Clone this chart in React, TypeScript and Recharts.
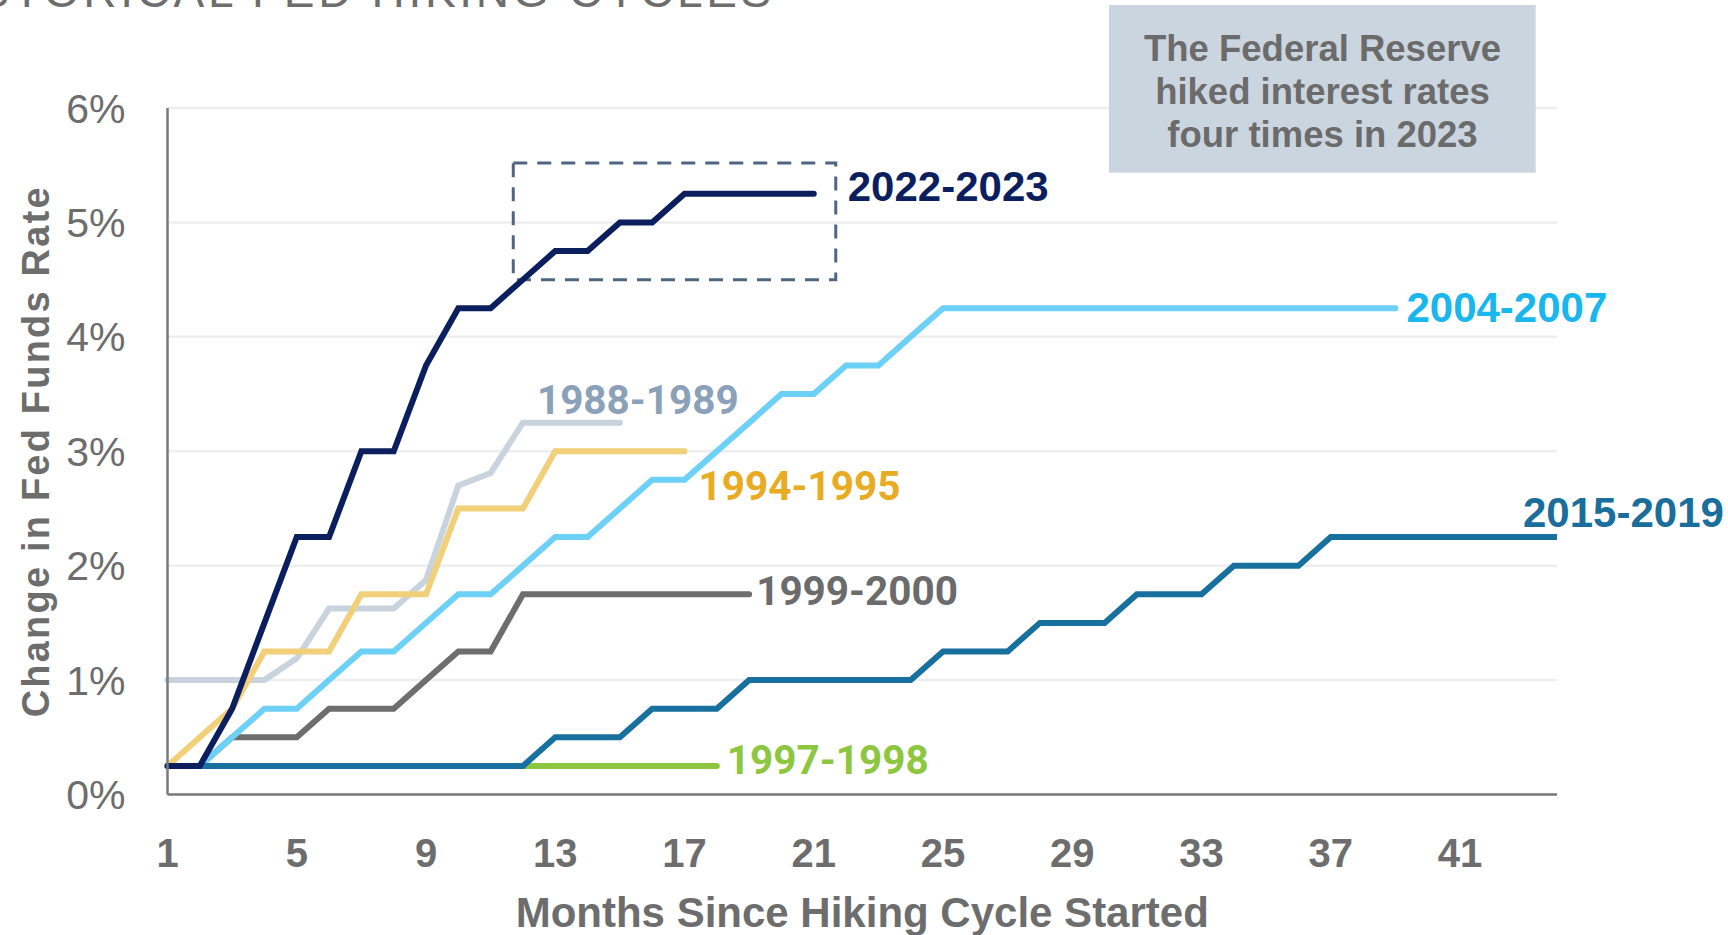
import React from "react"
import { LineChart, Line, XAxis, YAxis, CartesianGrid, ReferenceArea } from "recharts"

// months since the hiking cycle started
const months = Array.from({ length: 44 }, (_, i) => i + 1)
const monthTicks = [1, 5, 9, 13, 17, 21, 25, 29, 33, 37, 41]
const rateTicks = [0, 1, 2, 3, 4, 5, 6]

// cumulative change in fed funds rate (%), one value per month
const cycle1988 = [1, 1, 1, 1, 1.19, 1.625, 1.625, 1.625, 1.875, 2.7, 2.81, 3.25, 3.25, 3.25, 3.25]
const cycle1994 = [0.25, 0.5, 0.75, 1.25, 1.25, 1.25, 1.75, 1.75, 1.75, 2.5, 2.5, 2.5, 3, 3, 3, 3, 3]
const cycle1997 = [0.25, 0.25, 0.25, 0.25, 0.25, 0.25, 0.25, 0.25, 0.25, 0.25, 0.25, 0.25, 0.25, 0.25, 0.25, 0.25, 0.25, 0.25]
const cycle1999 = [0.25, 0.25, 0.5, 0.5, 0.5, 0.75, 0.75, 0.75, 1, 1.25, 1.25, 1.75, 1.75, 1.75, 1.75, 1.75, 1.75, 1.75, 1.75]
const cycle2004 = [
  0.25, 0.25, 0.5, 0.75, 0.75, 1, 1.25, 1.25, 1.5, 1.75, 1.75, 2, 2.25, 2.25, 2.5, 2.75, 2.75, 3, 3.25, 3.5,
  3.5, 3.75, 3.75, 4, 4.25, 4.25, 4.25, 4.25, 4.25, 4.25, 4.25, 4.25, 4.25, 4.25, 4.25, 4.25, 4.25, 4.25, 4.25,
]
const cycle2015 = [
  0.25, 0.25, 0.25, 0.25, 0.25, 0.25, 0.25, 0.25, 0.25, 0.25, 0.25, 0.25, 0.5, 0.5, 0.5, 0.75, 0.75, 0.75, 1, 1,
  1, 1, 1, 1, 1.25, 1.25, 1.25, 1.5, 1.5, 1.5, 1.75, 1.75, 1.75, 2, 2, 2, 2.25, 2.25, 2.25, 2.25, 2.25, 2.25,
  2.25, 2.25,
]
const cycle2022 = [0.25, 0.25, 0.75, 1.5, 2.25, 2.25, 3, 3, 3.75, 4.25, 4.25, 4.5, 4.75, 4.75, 5, 5, 5.25, 5.25, 5.25, 5.25, 5.25]

const ARIAL = "'Liberation Sans', Arial, Helvetica, sans-serif"
const ROBOTO = "Roboto, 'Liberation Sans', Arial, sans-serif"
const GREY = "#6d6d6d"

// drawing order = bottom to top
const series = [
  { key: "c1997", name: "1997-1998", values: cycle1997, stroke: "#8dc63f", text: "#8dc63f", font: ROBOTO, size: 40.5, dx: 10, dy: 8, cap: "round" },
  { key: "c1999", name: "1999-2000", values: cycle1999, stroke: "#6e6e6e", text: "#6b6b6b", font: ROBOTO, size: 40.5, dx: 7, dy: 11, cap: "round" },
  { key: "c1988", name: "1988-1989", values: cycle1988, stroke: "#c9d3dd", text: "#8aa1b9", font: ROBOTO, size: 40.5, dx: -83, dy: -9, cap: "round" },
  { key: "c1994", name: "1994-1995", values: cycle1994, stroke: "#f2cf79", text: "#e9ab21", font: ROBOTO, size: 40.5, dx: 14, dy: 49, cap: "round" },
  { key: "c2004", name: "2004-2007", values: cycle2004, stroke: "#6dd0f7", text: "#1ab6ee", font: ARIAL, size: 42, dx: 11, dy: 14, cap: "round" },
  { key: "c2015", name: "2015-2019", values: cycle2015, stroke: "#17709e", text: "#1a6e9b", font: ARIAL, size: 42, dx: -34, dy: -10, cap: "butt" },
  { key: "c2022", name: "2022-2023", values: cycle2022, stroke: "#0b1f5e", text: "#0b1f5e", font: ARIAL, size: 42, dx: 34, dy: 7, cap: "round" },
]

const rows = months.map((m, i) => {
  const row: Record<string, number | null> = { month: m }
  series.forEach((s) => {
    row[s.key] = s.values[i] ?? null
  })
  return row
})

const endLabel = (s: (typeof series)[number]) => (props: any) => {
  const { x, y, index } = props
  if (index !== s.values.length - 1 || x == null || y == null) return null
  return (
    <text x={x + s.dx} y={y + s.dy} fill={s.text} fontSize={s.size} fontWeight={700} fontFamily={s.font}>
      {s.name}
    </text>
  )
}

const YTitle = (props: any) => {
  const vb = props.viewBox || { y: 108, height: 686 }
  const cx = 49
  const cy = vb.y + vb.height / 2
  return (
    <text
      x={cx}
      y={cy}
      transform={`rotate(-90, ${cx}, ${cy})`}
      textAnchor="middle"
      fill={GREY}
      fontSize={38}
      fontWeight={700}
      fontFamily={ARIAL}
      letterSpacing={2.2}
    >
      Change in Fed Funds Rate
    </text>
  )
}

export default function App() {
  return (
    <div style={{ position: "relative", width: 1728, height: 935, overflow: "hidden", background: "#fff" }}>
      <style>{"body{margin:0}"}</style>
      <LineChart width={1728} height={935} data={rows} margin={{ top: 108, right: 171, bottom: 0, left: 0 }}>
        <CartesianGrid vertical={false} stroke="#eeeeee" strokeWidth={2.5} />
        <XAxis
          dataKey="month"
          type="number"
          domain={[1, 44]}
          ticks={monthTicks}
          interval={0}
          height={140.5}
          tickLine={false}
          tickSize={0}
          tickMargin={44}
          axisLine={{ stroke: "#7a7a7a", strokeWidth: 2.5 }}
          tick={{ fill: GREY, fontSize: 40, fontWeight: 700, fontFamily: ARIAL }}
          label={{
            value: "Months Since Hiking Cycle Started",
            position: "insideBottom",
            offset: 8,
            fill: GREY,
            fontSize: 42,
            fontWeight: 700,
            fontFamily: ARIAL,
          }}
        />
        <YAxis
          type="number"
          domain={[0, 6]}
          ticks={rateTicks}
          interval={0}
          width={167.5}
          tickLine={false}
          tickSize={0}
          tickMargin={42}
          tickFormatter={(v: number) => `${v}%`}
          axisLine={{ stroke: "#7a7a7a", strokeWidth: 2.5 }}
          tick={{ fill: GREY, fontSize: 41, fontFamily: ARIAL }}
          label={{ content: <YTitle /> }}
        />
        <ReferenceArea
          x1={11.7}
          x2={21.68}
          y1={4.5}
          y2={5.52}
          fill="none"
          fillOpacity={0}
          stroke="#4f6680"
          strokeWidth={3}
          strokeDasharray="14 10"
          ifOverflow="visible"
        />
        {series.map((s) => (
          <Line
            key={s.key}
            dataKey={s.key}
            name={s.name}
            type="linear"
            stroke={s.stroke}
            strokeWidth={6}
            strokeLinecap={s.cap as any}
            dot={false}
            activeDot={false}
            isAnimationActive={false}
            label={endLabel(s)}
          />
        ))}
      </LineChart>
      <svg width={1728} height={935} style={{ position: "absolute", left: 0, top: 0, pointerEvents: "none" }}>
        <text x={-75} y={7} fill={GREY} fontSize={46} fontFamily={ARIAL} letterSpacing={3.7}>
          HISTORICAL FED HIKING CYCLES
        </text>
        <rect x={1109} y={5} width={426.7} height={167.7} fill="#cbd5df" />
        <g fill="#6b6b6b" fontSize={36.5} fontWeight={700} fontFamily={ARIAL} textAnchor="middle">
          <text x={1322.5} y={60.5}>The Federal Reserve</text>
          <text x={1322.5} y={103.5}>hiked interest rates</text>
          <text x={1322.5} y={146.5}>four times in 2023</text>
        </g>
      </svg>
    </div>
  )
}
